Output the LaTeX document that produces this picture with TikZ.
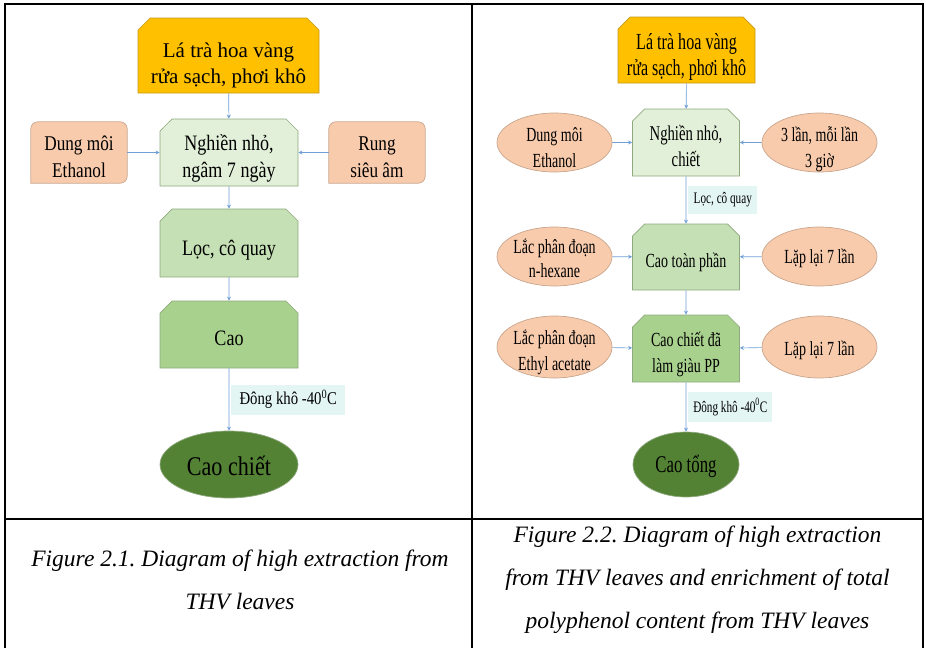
\documentclass[tikz,border=0pt]{standalone}
\usepackage{fontspec}
\setmainfont{Liberation Serif}
\newfontfamily\leftserif[FakeStretch=0.82]{Liberation Serif}
\newfontfamily\rightserif[FakeStretch=0.7]{Liberation Serif}
\usepackage{tikz}
\usetikzlibrary{shapes.geometric, shapes.misc, arrows.meta, positioning, backgrounds}
\frenchspacing

\definecolor{goldfill}{HTML}{FFC000}
\definecolor{goldline}{HTML}{C49A1C}
\definecolor{palegreen}{HTML}{E2F0D9}
\definecolor{midgreen}{HTML}{C5E0B4}
\definecolor{leafgreen}{HTML}{A9D18E}
\definecolor{darkgreen}{HTML}{548235}
\definecolor{boxline}{HTML}{8FA97E}
\definecolor{peach}{HTML}{F8CBAD}
\definecolor{peachline}{HTML}{C9A58C}
\definecolor{tagfill}{HTML}{E3F6F4}
\definecolor{arrowblue}{HTML}{6F9FD6}

\begin{document}
\begin{tikzpicture}[x=1pt, y=-1pt,
        stepbox/.style={chamfered rectangle, chamfered rectangle corners={north west, north east},
            chamfered rectangle xsep=6pt, chamfered rectangle ysep=6pt,
            draw=boxline, line width=0.7pt, inner sep=0pt, align=center},
        sidebox/.style={rectangle, inner sep=0pt, align=center, minimum width=96, minimum height=61},
        sideoval/.style={ellipse, draw=peachline, fill=peach, line width=0.7pt, inner sep=-6pt,
            align=center, minimum width=115},
        endoval/.style={ellipse, draw=boxline, fill=darkgreen, line width=0.7pt, inner sep=0pt},
        tag/.style={rectangle, fill=tagfill, inner sep=0pt, anchor=west, xshift=2pt},
        arrow/.style={draw=arrowblue, line width=0.6pt, -{Stealth[length=4pt, width=4pt]}},
        frame/.style={line width=1.6pt},
        textpos/.style 2 args={text height=#1pt, text depth=#2pt},
        lefttext/.style={font=\leftserif\fontsize{22}{27}\selectfont},
        righttext/.style={font=\rightserif\fontsize{20}{26}\selectfont},
        captext/.style={font=\fontsize{23.5}{43}\selectfont\itshape, align=center}
    ]
        \useasboundingbox (0,0) rectangle (926,648);

        % table lines
        \draw[frame] (5,648) -- (5,4) -- (923,4) -- (923,648);
        \draw[frame] (472,4) -- (472,648);
        \draw[frame] (5,519) -- (923,519);

        % Figure 2.1
        \node[stepbox, fill=goldfill, draw=goldline, minimum width=181, minimum height=75, textpos={55}{0},
            font=\fontsize{21}{26}\selectfont] (leafL) at (228.5,55.5) {Lá trà hoa vàng\\rửa sạch, phơi khô};
        \node[stepbox, lefttext, fill=palegreen, minimum width=138, minimum height=67, textpos={49}{0}] (grindL) at (229,152.5) {Nghiền nhỏ,\\ngâm 7 ngày};
        \node[sidebox, font=\leftserif\fontsize{21}{27}\selectfont, textpos={49}{0}] (solvL) at (79,152.5) {Dung môi\\Ethanol};
        \node[sidebox, font=\leftserif\fontsize{21}{27}\selectfont, textpos={49}{0}] (sonic) at (377,152.5) {Rung\\siêu âm};
        \node[stepbox, lefttext, fill=midgreen, minimum width=138, minimum height=68, textpos={24}{0}] (filtL) at (229,243) {Lọc, cô quay};
        \node[stepbox, lefttext, fill=leafgreen, minimum width=138, minimum height=67, textpos={21}{0}] (extL) at (229,334.5) {Cao};
        \node[endoval, minimum width=138, minimum height=67, textpos={21}{0},
            font=\leftserif\fontsize{27}{30}\selectfont] (finalL) at (229,464.5) {Cao chiết};

        \begin{scope}[on background layer]
            \foreach \n in {solvL, sonic}
                \filldraw[fill=peach, draw=peachline, line width=0.7pt] (\n.south west) [rounded corners=7pt]
                    -- (\n.north west) -- (\n.north east) -- (\n.south east) [sharp corners] -- cycle;
        \end{scope}

        \draw[arrow] (leafL) -- (grindL);
        \draw[arrow] (solvL) -- (grindL);
        \draw[arrow] (sonic) -- (grindL);
        \draw[arrow] (grindL) -- (filtL);
        \draw[arrow] (filtL) -- (extL);
        \draw[arrow] (extL) -- (finalL)
            node[tag, midway, minimum width=114, minimum height=30,
                font=\leftserif\fontsize{18}{20}\selectfont] (dryL) {Đông khô -40\textsuperscript{0}C};

        % Figure 2.2
        \node[stepbox, fill=goldfill, draw=goldline, minimum width=137, minimum height=66, textpos={50}{0},
            font=\rightserif\fontsize{23}{26}\selectfont] (leafR) at (686.5,50) {Lá trà hoa vàng\\rửa sạch, phơi khô};
        \node[stepbox, font=\rightserif\fontsize{21}{26}\selectfont, fill=palegreen, textpos={47}{0},
            minimum width=107, minimum height=67] (grindR) at (686,142.5) {Nghiền nhỏ,\\chiết};
        \node[sideoval, righttext, minimum height=59, textpos={49}{0}] (solvR) at (554.5,142.5) {Dung môi\\Ethanol};
        \node[sideoval, righttext, minimum height=59, textpos={49}{0}] (times) at (819.5,142.5) {3 lần, mỗi lần\\3 giờ};
        \node[stepbox, righttext, fill=midgreen, minimum width=107, minimum height=66, textpos={20}{0}] (crude) at (686,257) {Cao toàn phần};
        \node[sideoval, font=\rightserif\fontsize{20}{24}\selectfont, minimum height=59, textpos={41}{0}] (hexane) at (554.5,256.5) {Lắc phân đoạn\\n-hexane};
        \node[sideoval, righttext, minimum height=59, textpos={18}{5}] (repA) at (819.5,256.5) {Lặp lại 7 lần};
        \node[stepbox, righttext, fill=leafgreen, minimum width=107, minimum height=67, textpos={47}{0}] (rich) at (686,348.5) {Cao chiết đã\\làm giàu PP};
        \node[sideoval, righttext, minimum height=62, textpos={46}{0}] (ethyl) at (554.5,347) {Lắc phân đoạn\\Ethyl acetate};
        \node[sideoval, righttext, minimum height=62, textpos={20}{4}] (repB) at (819.5,347) {Lặp lại 7 lần};
        \node[endoval, minimum width=106, minimum height=65, textpos={18}{3},
            font=\rightserif\fontsize{24}{26}\selectfont] (finalR) at (686,464.5) {Cao tổng};

        \draw[arrow] (leafR) -- (grindR);
        \draw[arrow] (solvR) -- (grindR);
        \draw[arrow] (times) -- (grindR);
        \draw[arrow] (grindR) -- (crude)
            node[tag, midway, minimum width=69, minimum height=28,
                font=\rightserif\fontsize{16}{18}\selectfont] (filtR) {Lọc, cô quay};
        \draw[arrow] (hexane) -- (crude);
        \draw[arrow] (repA) -- (crude);
        \draw[arrow] (crude) -- (rich);
        \draw[arrow] (ethyl) -- (rich);
        \draw[arrow] (repB) -- (rich);
        \draw[arrow] (rich) -- (finalR)
            node[tag, midway, minimum width=84, minimum height=30,
                font=\rightserif\fontsize{16}{18}\selectfont] (dryR) {Đông khô -40\textsuperscript{0}C};

        % captions
        \node[captext] (capL) at (240,580) {Figure 2.1. Diagram of high extraction from\\THV leaves};
        \node[captext] (capR) at (697.5,580) {Figure 2.2. Diagram of high extraction\\from THV leaves and enrichment of total\\polyphenol content from THV leaves};
    \end{tikzpicture}
\end{document}
